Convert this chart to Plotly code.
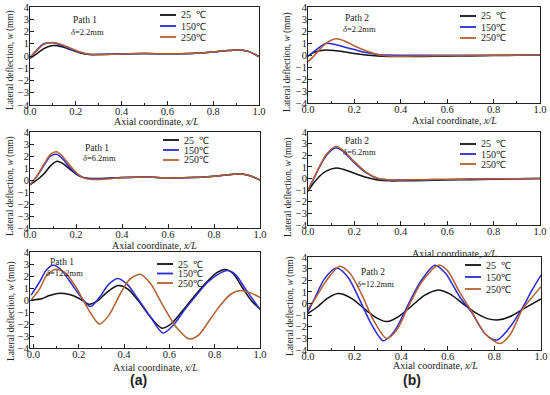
import plotly.graph_objects as go

W, H = 550, 395

# ---------------- data ----------------
temps = ["25  ℃", "150℃", "250℃"]

# Panel 1: Path 1, delta = 2.2 mm
p1_x = [0, 0.03, 0.06, 0.1, 0.14, 0.18, 0.22, 0.26, 0.3, 0.4, 0.5, 0.6, 0.7, 0.8, 0.85, 0.9, 0.95, 1.0]
p1_25 = [-0.2, 0.2, 0.6, 0.85, 0.75, 0.5, 0.25, 0.12, 0.12, 0.17, 0.2, 0.18, 0.2, 0.32, 0.42, 0.5, 0.4, -0.05]
p1_150 = [-0.15, 0.5, 1.0, 1.08, 0.85, 0.55, 0.28, 0.12, 0.12, 0.17, 0.2, 0.18, 0.2, 0.32, 0.42, 0.5, 0.4, -0.05]
p1_250 = [-0.15, 0.45, 0.95, 1.1, 0.92, 0.62, 0.32, 0.14, 0.12, 0.17, 0.2, 0.18, 0.2, 0.32, 0.42, 0.5, 0.4, -0.05]

# Panel 2: Path 2, delta = 2.2 mm
p2_x = [0, 0.02, 0.05, 0.08, 0.12, 0.16, 0.2, 0.25, 0.3, 0.35, 0.4, 0.5, 0.6, 0.7, 0.8, 0.9, 1.0]
p2_25 = [-0.1, 0.15, 0.35, 0.42, 0.35, 0.25, 0.12, 0.0, -0.08, -0.12, -0.13, -0.12, -0.1, -0.08, -0.05, -0.03, -0.02]
p2_150 = [-0.1, 0.2, 0.65, 0.98, 0.85, 0.65, 0.45, 0.2, 0.05, 0.0, -0.02, -0.02, -0.02, -0.02, -0.02, -0.01, 0.0]
p2_250 = [-0.55, -0.2, 0.45, 1.0, 1.35, 1.15, 0.75, 0.35, 0.05, -0.08, -0.1, -0.08, -0.06, -0.05, -0.03, -0.02, 0.0]

# Panel 3: Path 1, delta = 6.2 mm
p3_x = [0, 0.03, 0.06, 0.09, 0.115, 0.14, 0.17, 0.2, 0.23, 0.27, 0.3, 0.4, 0.5, 0.6, 0.7, 0.8, 0.85, 0.9, 0.95, 1.0]
p3_25 = [-0.4, 0.0, 0.5, 1.2, 1.55, 1.4, 0.95, 0.5, 0.22, 0.12, 0.12, 0.2, 0.25, 0.18, 0.2, 0.32, 0.42, 0.5, 0.4, 0.0]
p3_150 = [-0.4, 0.3, 1.2, 2.0, 2.15, 1.8, 1.1, 0.55, 0.22, 0.1, 0.1, 0.2, 0.25, 0.18, 0.2, 0.32, 0.42, 0.5, 0.4, 0.0]
p3_250 = [-0.4, 0.35, 1.3, 2.15, 2.35, 2.0, 1.3, 0.65, 0.2, 0.04, 0.04, 0.18, 0.25, 0.18, 0.2, 0.32, 0.42, 0.5, 0.4, 0.0]

# Panel 4: Path 2, delta = 6.2 mm
p4_x = [0, 0.02, 0.05, 0.08, 0.12, 0.15, 0.2, 0.25, 0.3, 0.35, 0.4, 0.5, 0.6, 0.7, 0.8, 0.9, 1.0]
p4_25 = [-1.1, -0.5, 0.2, 0.65, 0.9, 0.8, 0.45, 0.1, -0.12, -0.2, -0.2, -0.17, -0.12, -0.1, -0.06, -0.03, 0.0]
p4_150 = [-1.0, -0.2, 1.0, 2.0, 2.65, 2.35, 1.35, 0.5, 0.0, -0.12, -0.12, -0.1, -0.08, -0.05, -0.03, -0.02, 0.0]
p4_250 = [-1.0, -0.15, 1.05, 2.1, 2.75, 2.45, 1.45, 0.55, 0.02, -0.12, -0.12, -0.1, -0.08, -0.05, -0.03, -0.02, 0.0]

# Panel 5: Path 1, delta = 12.2 mm
p5_x25 = [-0.01, 0.037, 0.067, 0.108, 0.159, 0.2, 0.246, 0.281, 0.322, 0.373, 0.414, 0.465, 0.516, 0.567, 0.607, 0.658, 0.709, 0.76, 0.811, 0.847, 0.882, 0.923, 0.964, 1.0]
p5_25 = [0.0, 0.1, 0.35, 0.55, 0.45, 0.15, -0.35, -0.1, 0.6, 1.2, 0.95, -0.1, -1.4, -2.35, -2.0, -0.9, 0.3, 1.4, 2.3, 2.55, 2.2, 1.0, -0.1, -0.75]
p5_x150 = [-0.01, 0.027, 0.057, 0.088, 0.118, 0.159, 0.2, 0.251, 0.291, 0.332, 0.373, 0.414, 0.465, 0.516, 0.572, 0.617, 0.668, 0.719, 0.77, 0.811, 0.857, 0.893, 0.933, 0.974, 1.0]
p5_150 = [0.4, 1.5, 2.5, 2.9, 2.6, 1.6, 0.5, -0.55, 0.2, 1.3, 1.8, 1.3, 0.0, -1.4, -2.75, -2.1, -0.8, 0.4, 1.5, 2.1, 2.45, 2.1, 1.0, -0.1, -0.8]
p5_x250 = [-0.01, 0.027, 0.057, 0.098, 0.139, 0.19, 0.24, 0.291, 0.332, 0.383, 0.424, 0.471, 0.516, 0.567, 0.628, 0.689, 0.73, 0.78, 0.831, 0.872, 0.913, 0.964, 1.0]
p5_250 = [0.0, 0.9, 2.0, 2.55, 2.3, 1.0, -0.7, -2.0, -1.3, 0.5, 1.7, 2.15, 1.4, -0.3, -2.2, -3.25, -2.9, -1.6, -0.3, 0.5, 0.8, 0.55, 0.2]

# Panel 6: Path 2, delta = 12.2 mm
p6_x25 = [0, 0.04, 0.08, 0.13, 0.19, 0.25, 0.3, 0.34, 0.39, 0.44, 0.5, 0.555, 0.61, 0.67, 0.72, 0.77, 0.82, 0.87, 0.93, 1.0]
p6_25 = [-0.85, -0.3, 0.4, 0.85, 0.4, -0.6, -1.3, -1.55, -1.1, -0.3, 0.7, 1.15, 0.8, -0.1, -0.8, -1.3, -1.4, -1.1, -0.4, 0.4]
p6_x150 = [0, 0.03, 0.07, 0.122, 0.17, 0.22, 0.27, 0.323, 0.37, 0.42, 0.48, 0.545, 0.59, 0.65, 0.7, 0.76, 0.81, 0.86, 0.92, 0.96, 1.0]
p6_150 = [-0.7, 0.5, 2.1, 3.05, 2.3, 0.4, -1.7, -3.2, -2.4, -0.5, 1.8, 3.3, 2.6, 0.6, -0.7, -2.6, -3.15, -2.2, -0.4, 1.1, 2.45]
p6_x250 = [0, 0.03, 0.08, 0.136, 0.18, 0.23, 0.28, 0.337, 0.38, 0.43, 0.49, 0.56, 0.6, 0.65, 0.7, 0.76, 0.825, 0.87, 0.92, 0.96, 1.0]
p6_250 = [-0.45, 0.4, 2.0, 3.2, 2.6, 0.8, -1.4, -3.0, -2.3, -0.3, 1.9, 3.3, 2.8, 1.0, -0.6, -2.6, -3.45, -2.6, -0.5, 0.5, 1.45]

path_labels = ["Path 1", "Path 2", "Path 1", "Path 2", "Path 1", "Path 2"]
delta_labels = ["2.2mm", "2.2mm", "6.2mm", "6.2mm", "12.2mm", "12.2mm"]
y_ticks = [4, 3, 2, 1, 0, -1, -2, -3, -4]
x_ticks = [0.0, 0.2, 0.4, 0.6, 0.8, 1.0]
x_ticktext = ["0.0", "0.2", "0.4", "0.6", "0.8", "1.0"]
x_title = "Axial coordinate, <i>x/L</i>"
y_title = "Lateral deflection, <i>w</i> (mm)"
panel_tags = ["(a)", "(b)"]

series = [
    [(p1_x, p1_25), (p1_x, p1_150), (p1_x, p1_250)],
    [(p2_x, p2_25), (p2_x, p2_150), (p2_x, p2_250)],
    [(p3_x, p3_25), (p3_x, p3_150), (p3_x, p3_250)],
    [(p4_x, p4_25), (p4_x, p4_150), (p4_x, p4_250)],
    [(p5_x25, p5_25), (p5_x150, p5_150), (p5_x250, p5_250)],
    [(p6_x25, p6_25), (p6_x150, p6_150), (p6_x250, p6_250)],
]

# ---------------- styling / layout ----------------
colors = ["#111111", "#2a2ad8", "#b3602f"]
SERIF = "Liberation Serif"

# plot boxes in pixels: (left, right, top, bottom)
boxes = [
    (30, 259, 7, 105),
    (308, 540, 7, 103),
    (30, 260, 132, 228),
    (308, 540, 132, 225),
    (30, 260, 252, 348),
    (308, 541, 257, 350),
]
xranges = [[0, 1], [0, 1], [0, 1], [0, 1], [-0.015, 1.0], [0, 1]]
# x-title centre (px), y-title centre (px)
xtitle_pos = [(156, 121), (454, 120), (154, 245), (454, 253), (155, 367), (435, 365)]
ytitle_pos = [(10, 60), (288, 62), (10, 186), (288, 187), (11, 311), (290, 306)]
# legend: (line x0 px, first row y px, row spacing)
legends = [(160, 15, 11), (460, 16, 11), (163, 140, 10), (460, 144, 10), (157, 264, 9.5), (465, 265, 12)]
# annotations: (x center px, path y px, delta y px)
notes = [(85, 20, 32), (357, 18, 29), (97, 148, 158), (357, 141, 152), (62, 262, 273), (373, 272, 284)]
tag_pos = [(138, 380), (412, 380)]


def px(x):
    return x / W


def py(y):
    return 1 - y / H


fig = go.Figure()
layout = dict(
    width=W, height=H,
    margin=dict(l=0, r=0, t=0, b=0),
    paper_bgcolor="white", plot_bgcolor="white",
    showlegend=False,
    font=dict(family=SERIF, size=10, color="#222"),
)
shapes = []
annotations = []

for i, (box, ser) in enumerate(zip(boxes, series)):
    n = "" if i == 0 else str(i + 1)
    xa, ya = "x" + n, "y" + n
    for j, (xs, ys) in enumerate(ser):
        fig.add_trace(go.Scatter(
            x=xs, y=ys, mode="lines", name=temps[j],
            line=dict(color=colors[j], width=1.5, shape="spline", smoothing=0.8),
            xaxis=xa, yaxis=ya, hoverinfo="skip",
        ))
    l, r, t, b = box
    layout["xaxis" + n] = dict(
        domain=[px(l), px(r)], anchor=ya, range=xranges[i],
        tickvals=x_ticks, ticktext=x_ticktext, ticks="inside", ticklen=4,
        tickcolor="#222", showline=True, linecolor="#222", linewidth=1, mirror=True,
        showgrid=False, zeroline=False, ticklabeloverflow="allow", ticklabelstandoff=-4,
        minor=dict(dtick=0.1, tick0=0, ticks="inside", ticklen=2, tickcolor="#222"),
        tickfont=dict(family=SERIF, size=10.5, color="#222"),
        automargin=False,
    )
    layout["yaxis" + n] = dict(
        domain=[py(b), py(t)], anchor=xa, range=[-4, 4],
        tickvals=y_ticks, ticks="inside", ticklen=4, tickcolor="#222",
        showline=True, linecolor="#222", linewidth=1, mirror=True,
        showgrid=False, zeroline=False, ticklabeloverflow="allow", ticklabelstandoff=-2,
        tickfont=dict(family=SERIF, size=10.5, color="#222"),
        automargin=False,
    )
    # axis titles
    tx, ty = xtitle_pos[i]
    annotations.append(dict(xref="paper", yref="paper", x=px(tx), y=py(ty), text=x_title,
                            showarrow=False, xanchor="center", yanchor="middle",
                            font=dict(family=SERIF, size=10, color="#222")))
    tx, ty = ytitle_pos[i]
    annotations.append(dict(xref="paper", yref="paper", x=px(tx), y=py(ty), text=y_title,
                            showarrow=False, xanchor="center", yanchor="middle", textangle=-90,
                            font=dict(family=SERIF, size=9.3, color="#222")))
    # manual legend
    lx, ly, dy = legends[i]
    for j in range(3):
        yy = ly + j * dy
        shapes.append(dict(type="line", xref="paper", yref="paper",
                           x0=px(lx), x1=px(lx + 16), y0=py(yy), y1=py(yy),
                           line=dict(color=colors[j], width=1.8)))
        annotations.append(dict(xref="paper", yref="paper", x=px(lx + 19), y=py(yy),
                                text=temps[j], showarrow=False, xanchor="left", yanchor="middle",
                                font=dict(family=SERIF, size=10, color="#222")))
    nx, ny1, ny2 = notes[i]
    annotations.append(dict(xref="paper", yref="paper", x=px(nx), y=py(ny1), text=path_labels[i],
                            showarrow=False, xanchor="center", yanchor="middle",
                            font=dict(family=SERIF, size=9.5, color="#222")))
    annotations.append(dict(xref="paper", yref="paper", x=px(nx + 2), y=py(ny2),
                            text="<i>δ</i>=" + delta_labels[i],
                            showarrow=False, xanchor="center", yanchor="middle",
                            font=dict(family=SERIF, size=8.5, color="#222")))

for tag, (tx, ty) in zip(panel_tags, tag_pos):
    annotations.append(dict(xref="paper", yref="paper", x=px(tx), y=py(ty), text="<b>" + tag + "</b>",
                            showarrow=False, xanchor="center", yanchor="middle",
                            font=dict(family="Liberation Sans", size=14, color="#222")))

layout["shapes"] = shapes
layout["annotations"] = annotations
fig.update_layout(**layout)
fig.write_html(
    "out.html",
    config={"displayModeBar": False},
    post_script="document.body.style.margin='0';document.body.style.padding='0';"
                "document.body.style.overflow='hidden';",
)
